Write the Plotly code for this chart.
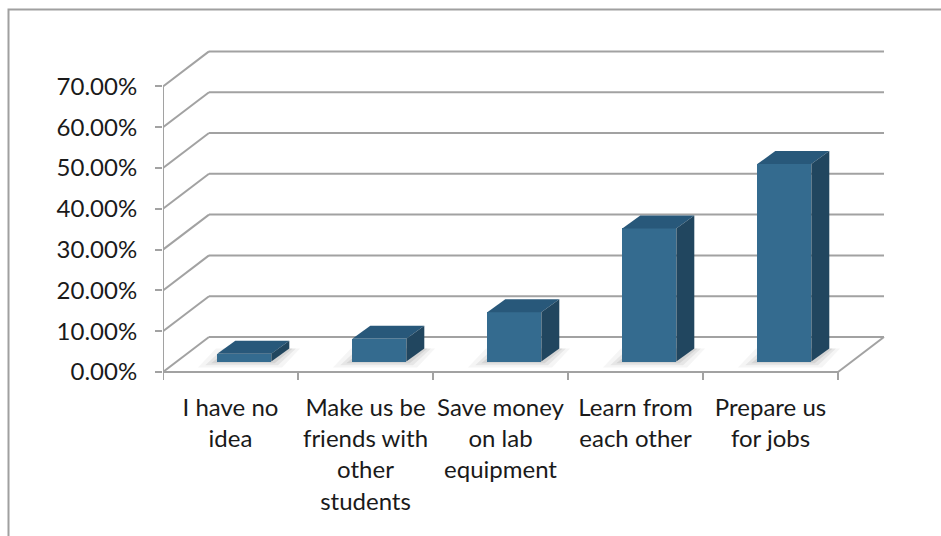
import plotly.graph_objects as go

# ---------------- data ----------------
categories = ["I have no idea", "Make us be friends with other students",
              "Save money on lab equipment", "Learn from each other", "Prepare us for jobs"]
tick_labels = ["I have no<br>idea", "Make us be<br>friends with<br>other<br>students",
               "Save money<br>on lab<br>equipment", "Learn from<br>each other", "Prepare us<br>for jobs"]
values = [1.9, 5.6, 12.1, 32.6, 48.4]          # percent
y_ticks = [0, 10, 20, 30, 40, 50, 60, 70]
y_tick_text = [f"{v:.2f}%" for v in y_ticks]

# ---------------- geometry (pixels) ----------------
FIG_W, FIG_H = 941, 536
PX_LEFT = 163        # front value axis
PX_CAT = 135         # pixels per category
PX_ZERO = 372        # pixel row of 0 %
PX_PER_PCT = 4.08
PLOT_RIGHT, PLOT_TOP, PLOT_BOTTOM = 892, 44, 386
WALL_DX_PX, WALL_DY_PX = 46, 35        # full depth of the 3-D box
BAR_DX_PX, BAR_DY_PX = 18, 13          # depth of a bar
FRONT_F = 0.30                          # depth fraction of bar front face
BAR_W = 0.40

FONT = "Lato"
FSIZE = 24
GRID = "#a2a2a2"
FRONT_COL = "#346b8f"
TOP_COL = "#28587a"
SIDE_COL = "#21465f"

n = len(values)
X0, X1 = -0.5, n - 0.5
DX = WALL_DX_PX / PX_CAT
DY = WALL_DY_PX / PX_PER_PCT
BDX = BAR_DX_PX / PX_CAT
BDY = BAR_DY_PX / PX_PER_PCT
xr_max = X0 + (PLOT_RIGHT - PX_LEFT) / PX_CAT
yr_min = (PX_ZERO - PLOT_BOTTOM) / PX_PER_PCT
yr_max = (PX_ZERO - PLOT_TOP) / PX_PER_PCT

shapes = []
def line(x0, y0, x1, y1, layer="below", color=GRID, w=2):
    shapes.append(dict(type="line", xref="x", yref="y", x0=x0, y0=y0, x1=x1, y1=y1,
                       line=dict(color=color, width=w), layer=layer))

def poly(pts, color, layer="above", opacity=1.0):
    d = "M " + " L ".join(f"{x},{y}" for x, y in pts) + " Z"
    shapes.append(dict(type="path", xref="x", yref="y", path=d, fillcolor=color,
                       line=dict(width=0), layer=layer, opacity=opacity))

# back wall gridlines + side wall diagonals
for v in y_ticks:
    line(X0 + DX, v + DY, X1 + DX, v + DY)
    line(X0, v, X0 + DX, v + DY)
# floor front and right edges
line(X0, 0, X1, 0)
line(X1, 0, X1 + DX, DY)
# front value axis
line(X0, 0, X0, y_ticks[-1])
# category tick marks at boundaries
for k in range(n + 1):
    line(X0 + k, 0, X0 + k, -8 / PX_PER_PCT)

# bars
base = FRONT_F * DY
xc = [i + FRONT_F * DX for i in range(n)]
for i, v in enumerate(values):
    xl, xr = xc[i] - BAR_W / 2, xc[i] + BAR_W / 2
    # soft shadow on floor
    for s, op in [(0.08, 0.04), (0.05, 0.06), (0.025, 0.08)]:
        poly([(xl - s * 1.8, base - s * 18), (xr + s, base - s * 18),
              (xr + BDX + s, base + BDY), (xl + BDX - s * 1.8, base + BDY)],
             "#000000", layer="below", opacity=op)
    # top face
    poly([(xl, base + v), (xr, base + v), (xr + BDX, base + v + BDY), (xl + BDX, base + v + BDY)], TOP_COL)
    # side face
    poly([(xr, base), (xr, base + v), (xr + BDX, base + v + BDY), (xr + BDX, base + BDY)], SIDE_COL)

fig = go.Figure()
fig.add_trace(go.Bar(x=xc, y=values, base=[base] * n, width=BAR_W,
                     marker=dict(color=FRONT_COL, line=dict(width=0)),
                     hoverinfo="skip", showlegend=False))

# chart frame (page coordinates -> paper)
pw = PLOT_RIGHT - PX_LEFT
ph = PLOT_BOTTOM - PLOT_TOP
def px_x(p): return (p - PX_LEFT) / pw
def px_y(q): return (PLOT_BOTTOM - q) / ph
shapes.append(dict(type="rect", xref="paper", yref="paper",
                   x0=px_x(8.5), x1=px_x(FIG_W + 20), y0=px_y(FIG_H + 20), y1=px_y(9.5),
                   line=dict(color="#a0a0a0", width=2), fillcolor="rgba(0,0,0,0)", layer="below"))

fig.update_layout(
    width=FIG_W, height=FIG_H,
    margin=dict(l=PX_LEFT, r=FIG_W - PLOT_RIGHT, t=PLOT_TOP, b=FIG_H - PLOT_BOTTOM, pad=0),
    paper_bgcolor="white", plot_bgcolor="rgba(0,0,0,0)",
    shapes=shapes, bargap=0,
    font=dict(family=FONT, size=FSIZE, color="#1a1a1a"),
    xaxis=dict(range=[X0, xr_max], tickvals=list(range(n)), ticktext=tick_labels,
               showgrid=False, zeroline=False, showline=False, ticks="",
               ticklabelstandoff=5, tickfont=dict(family=FONT, size=FSIZE, color="#1a1a1a"),
               fixedrange=True),
    yaxis=dict(range=[yr_min, yr_max], tickvals=y_ticks, ticktext=y_tick_text,
               showgrid=False, zeroline=False, showline=False,
               ticks="outside", ticklen=7, tickwidth=2, tickcolor=GRID,
               ticklabelstandoff=13, tickfont=dict(family=FONT, size=FSIZE, color="#1a1a1a"),
               fixedrange=True),
)

fig.write_html("out.html", config={"displayModeBar": False})
